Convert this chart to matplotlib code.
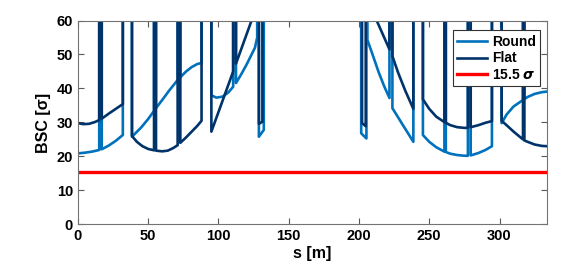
import matplotlib
matplotlib.use("Agg")
import matplotlib.pyplot as plt

plt.rcParams['font.family'] = ['Liberation Sans', 'DejaVu Sans']
plt.rcParams['font.weight'] = 'bold'
plt.rcParams['mathtext.fontset'] = 'dejavusans'

# beam-stay-clear per element
# each inner list is one element; between elements the curve goes off the top
round_s = [[0, 5, 10, 15.2], [17.0, 22, 27, 32],
           [38.5, 45, 50, 54.2], [55.6, 60, 65, 71], [72.9, 77, 81, 85, 88],
           [95, 98.5, 103, 107, 110.5], [112.5, 116, 120, 123, 126, 127.6],
           [128.8, 132.3],
           [201.6, 205.3],
           [206.0, 210, 214, 218, 221.7], [223.8, 231, 238.7],
           [245.5, 250, 255, 260.8], [261.8, 265, 270, 275, 277.5],
           [279.5, 285, 290, 294.6],
           [301.5, 305, 310, 316.7], [317.7, 320, 325, 330, 334]]
round_v = [[20.9, 21.1, 21.4, 21.9], [22.1, 23.2, 24.6, 26.3],
           [25.8, 28.5, 31.0, 33.4], [34.2, 36.6, 39.4, 42.5], [43.3, 45.0, 46.3, 47.2, 47.5],
           [38.0, 37.3, 37.6, 38.8, 40.5], [41.6, 44.0, 47.0, 49.5, 52.0, 55.0],
           [25.8, 27.8],
           [26.8, 25.3],
           [54.3, 49.6, 44.8, 40.6, 37.2], [34.2, 29.4, 24.3],
           [26.3, 24.3, 22.7, 21.4], [21.3, 20.8, 20.4, 20.2, 20.2],
           [20.3, 21.0, 21.9, 23.0],
           [29.8, 32.3, 34.7, 36.6], [36.9, 37.5, 38.4, 38.9, 39.1]]

flat_s = [[0, 4, 8, 12, 15.2], [17.0, 22, 27, 32],
          [38.5, 42, 46, 50, 54.2], [55.6, 60, 64, 68, 71], [72.9, 77, 81, 85, 88],
          [95, 110.5], [112.5, 127.6],
          [128.8, 131.3],
          [202.2, 204.8],
          [206.0, 212.6, 221.7], [223.8, 228, 233, 238.7],
          [245.5, 250, 255, 260.8], [261.8, 265, 270, 275, 277.5],
          [279.5, 285, 290, 294.6],
          [301.5, 305, 310, 316.7], [317.7, 320, 325, 330, 334]]
flat_v = [[29.8, 29.5, 29.6, 30.1, 30.7], [31.1, 32.6, 34.0, 35.4],
          [26.0, 24.3, 23.0, 22.2, 21.8], [21.7, 21.5, 21.7, 22.5, 23.3], [24.0, 25.6, 27.3, 29.0, 30.5],
          [27.3, 45.0], [47.3, 64.6],
          [29.6, 30.2],
          [29.8, 28.9],
          [66.5, 60.0, 51.5], [49.5, 44.5, 39.3, 34.0],
          [36.8, 34.0, 31.7, 30.1], [29.9, 29.2, 28.6, 28.4, 28.4],
          [28.6, 29.2, 29.9, 30.4],
          [30.5, 29.2, 27.3, 25.0], [24.7, 24.3, 23.5, 23.1, 23.0]]

limit_sigma = 15.5
s_max = 334
TOP = 200  # off-chart value for element edges


def join_elements(seg_s, seg_v):
    xs, ys = [], []
    for i, (s, v) in enumerate(zip(seg_s, seg_v)):
        if i > 0:
            xs.append(s[0])
            ys.append(TOP)
        xs.extend(s)
        ys.extend(v)
        if i < len(seg_s) - 1:
            xs.append(s[-1])
            ys.append(TOP)
    return xs, ys


fig, ax = plt.subplots(figsize=(5.81, 2.70), dpi=100)
fig.subplots_adjust(left=0.134, right=0.942, bottom=0.169, top=0.924)

rx, ry = join_elements(round_s, round_v)
fx, fy = join_elements(flat_s, flat_v)
ax.plot(rx, ry, color='#0072BD', lw=1.9, label='Round')
ax.plot(fx, fy, color='#00336A', lw=1.9, label='Flat')
ax.plot([0, s_max], [limit_sigma, limit_sigma], color='#FF0000', lw=2.4,
        label='15.5 $\\sigma$')

ax.set_xlim(0, s_max)
ax.set_ylim(0, 60)
ax.set_xticks([0, 50, 100, 150, 200, 250, 300])
ax.set_yticks([0, 10, 20, 30, 40, 50, 60])
ax.tick_params(direction='in', length=4, top=True, right=True,
               labelsize=10.5, color='0.35', width=0.8)
for sp in ax.spines.values():
    sp.set_color('0.45')
    sp.set_linewidth(0.8)
ax.set_xlabel('s [m]', fontsize=11.5, fontweight='bold', labelpad=2)
ax.set_ylabel('BSC [σ]', fontsize=11.5, fontweight='bold', labelpad=4)

leg = ax.legend(loc='upper right', bbox_to_anchor=(0.99, 0.965), fontsize=10,
                frameon=True, fancybox=False, edgecolor='0.2', framealpha=1,
                borderpad=0.3, handlelength=2.2, handletextpad=0.3,
                labelspacing=0.2, borderaxespad=0.2)
leg.get_frame().set_linewidth(0.8)

fig.savefig('out.png', dpi=100)
